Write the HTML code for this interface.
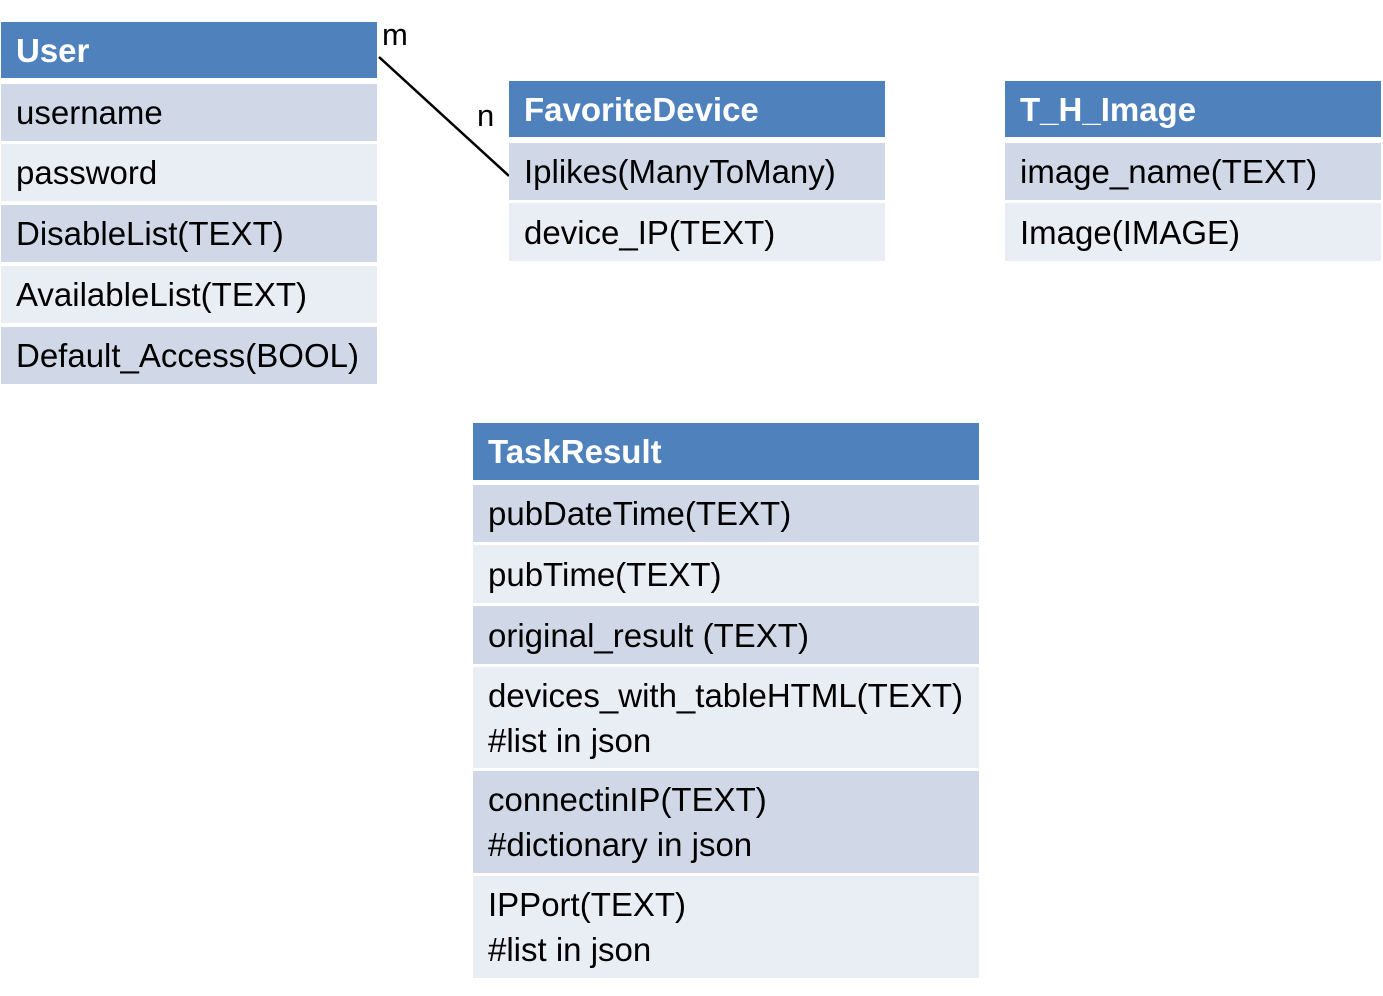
<!DOCTYPE html>
<html><head><meta charset="utf-8"><style>
body{margin:0;width:1383px;height:996px;background:#fff;position:relative;overflow:hidden;font-family:"Liberation Sans",sans-serif;}
.b{position:absolute;box-sizing:border-box;padding-left:15px;display:flex;flex-direction:column;justify-content:center;font-size:33px;color:#000;line-height:45px;white-space:nowrap;}
.h{background:#4f81bd;color:#fff;font-weight:bold;}
.d{background:#d0d8e8;}
.l{background:#e9edf4;}
.t{position:absolute;font-size:31px;}
</style></head><body>
<svg style="position:absolute;left:0;top:0" width="1383" height="996"><line x1="379" y1="57" x2="509" y2="176" stroke="#000" stroke-width="2.5"/></svg>
<div class="t" style="left:382px;top:17px">m</div>
<div class="t" style="left:477px;top:98px">n</div>

<div class="b h" style="left:1px;top:22px;width:376px;height:56px">User</div>
<div class="b d" style="left:1px;top:84px;width:376px;height:57px">username</div>
<div class="b l" style="left:1px;top:144px;width:376px;height:57px">password</div>
<div class="b d" style="left:1px;top:205px;width:376px;height:57px">DisableList(TEXT)</div>
<div class="b l" style="left:1px;top:266px;width:376px;height:57px">AvailableList(TEXT)</div>
<div class="b d" style="left:1px;top:327px;width:376px;height:57px">Default_Access(BOOL)</div>

<div class="b h" style="left:509px;top:81px;width:376px;height:56px">FavoriteDevice</div>
<div class="b d" style="left:509px;top:143px;width:376px;height:57px">Iplikes(ManyToMany)</div>
<div class="b l" style="left:509px;top:203px;width:376px;height:58px">device_IP(TEXT)</div>

<div class="b h" style="left:1005px;top:81px;width:376px;height:56px">T_H_Image</div>
<div class="b d" style="left:1005px;top:143px;width:376px;height:57px">image_name(TEXT)</div>
<div class="b l" style="left:1005px;top:203px;width:376px;height:58px">Image(IMAGE)</div>

<div class="b h" style="left:473px;top:423px;width:506px;height:57px">TaskResult</div>
<div class="b d" style="left:473px;top:485px;width:506px;height:57px">pubDateTime(TEXT)</div>
<div class="b l" style="left:473px;top:545px;width:506px;height:58px">pubTime(TEXT)</div>
<div class="b d" style="left:473px;top:606px;width:506px;height:58px">original_result (TEXT)</div>
<div class="b l" style="left:473px;top:667px;width:506px;height:101px"><div>devices_with_tableHTML(TEXT)</div><div>#list in json</div></div>
<div class="b d" style="left:473px;top:771px;width:506px;height:102px"><div>connectinIP(TEXT)</div><div>#dictionary in json</div></div>
<div class="b l" style="left:473px;top:876px;width:506px;height:102px"><div>IPPort(TEXT)</div><div>#list in json</div></div>
</body></html>
